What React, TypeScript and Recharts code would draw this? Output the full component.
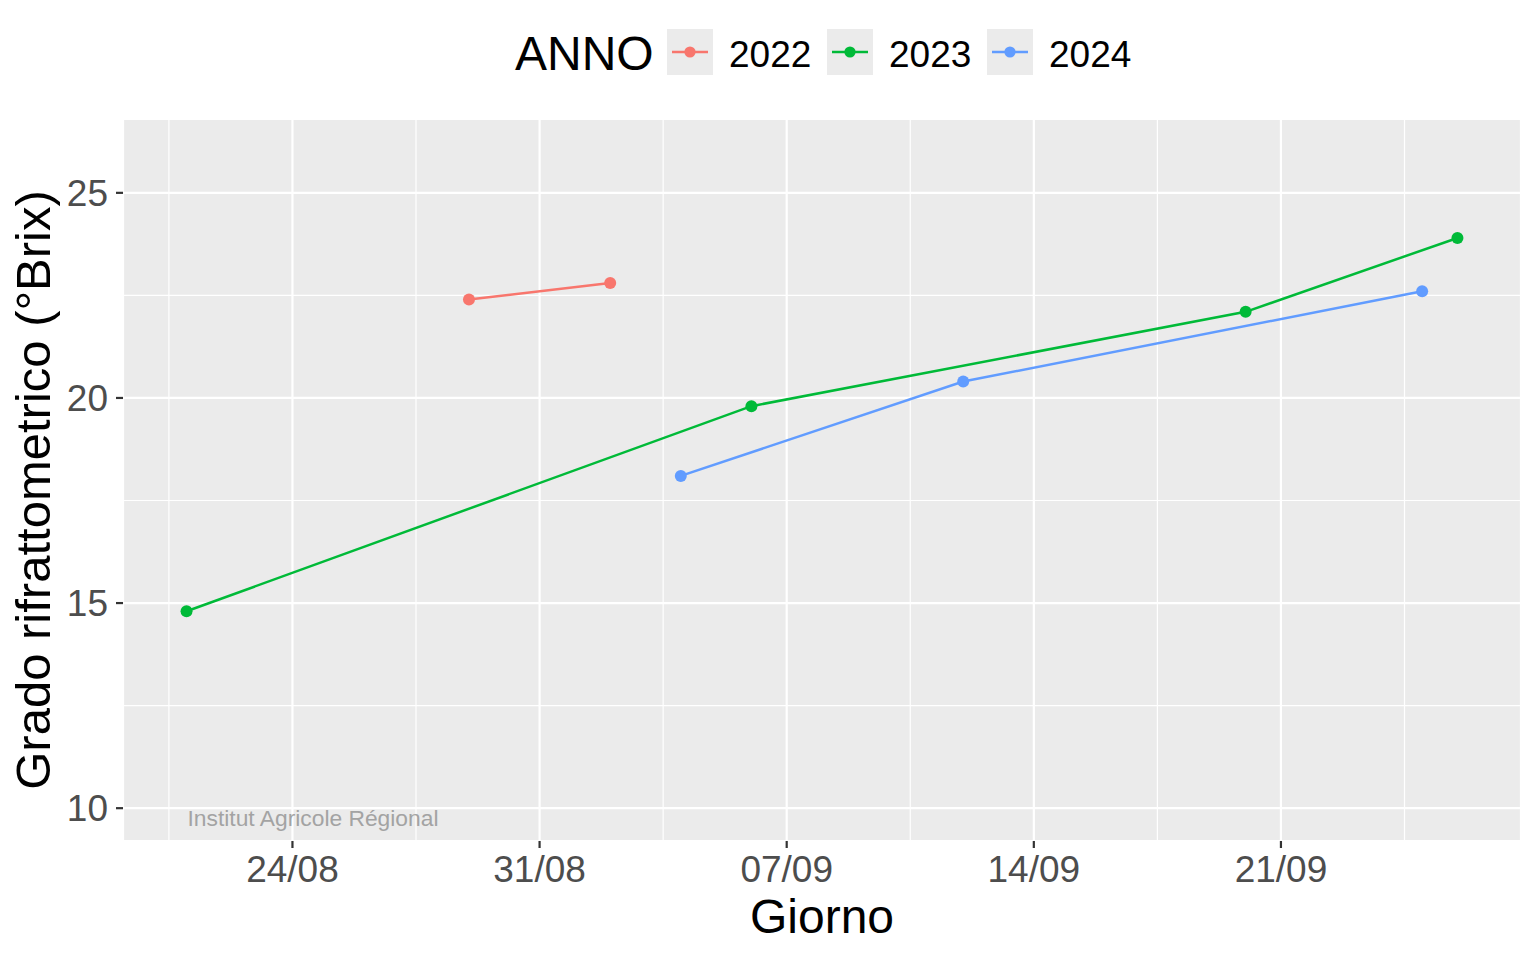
import React from 'react';
import {
  LineChart,
  Line,
  XAxis,
  YAxis,
  CartesianGrid,
  Legend,
  ReferenceDot,
} from 'recharts';

// ---- data ----
const YEARS = ['2022', '2023', '2024'];
const COLORS = ['#F8766D', '#00BA38', '#619CFF'];

const DATES_2022 = ['29/08', '02/09'];
const BRIX_2022 = [22.4, 22.8];

const DATES_2023 = ['21/08', '06/09', '20/09', '26/09'];
const BRIX_2023 = [14.8, 19.8, 22.1, 23.9];

const DATES_2024 = ['04/09', '12/09', '25/09'];
const BRIX_2024 = [18.1, 20.4, 22.6];

const X_TICK_LABELS = ['24/08', '31/08', '07/09', '14/09', '21/09'];
const X_MINOR_LABELS_HALF = ['20/08', '27/08', '03/09', '10/09', '17/09', '24/09'];
const Y_TICKS = [10, 15, 20, 25];
const Y_MINOR = [12.5, 17.5, 22.5];
const Y_DOMAIN: [number, number] = [9.2, 26.8];

const WATERMARK = 'Institut Agricole Régional';
const X_TITLE = 'Giorno';
const Y_TITLE = 'Grado rifrattometrico (°Brix)';
const LEGEND_TITLE = 'ANNO';

// days since 1 August
const dayIndex = (s: string): number => {
  const [d, m] = s.split('/').map(Number);
  return (m === 9 ? 31 : 0) + d - 1;
};

const toSeries = (dates: string[], vals: number[]) =>
  dates.map((d, i) => ({ x: dayIndex(d), y: vals[i] }));

const SERIES = [
  toSeries(DATES_2022, BRIX_2022),
  toSeries(DATES_2023, BRIX_2023),
  toSeries(DATES_2024, BRIX_2024),
];

const X_TICKS = X_TICK_LABELS.map(dayIndex);
const X_MINOR = X_MINOR_LABELS_HALF.map((d) => dayIndex(d) + 0.5);

const allX = SERIES.flat().map((p) => p.x);
const xMin = Math.min(...allX);
const xMax = Math.max(...allX);
const xPad = (xMax - xMin) * 0.05;
const X_DOMAIN: [number, number] = [xMin - xPad, xMax + xPad];

const FONT = '"Liberation Sans", Arial, Helvetica, sans-serif';
const TICK_COLOR = '#4D4D4D';

const XTick = (props: any) => {
  const { x, y, payload } = props;
  const idx = X_TICKS.indexOf(payload.value);
  return (
    <text
      x={x}
      y={y}
      dy="0.71em"
      textAnchor="middle"
      fill={TICK_COLOR}
      fontSize={37}
      fontFamily={FONT}
    >
      {idx >= 0 ? X_TICK_LABELS[idx] : payload.value}
    </text>
  );
};

const YTick = (props: any) => {
  const { x, y, payload } = props;
  return (
    <text
      x={x}
      y={y}
      dy="0.355em"
      textAnchor="end"
      fill={TICK_COLOR}
      fontSize={37}
      fontFamily={FONT}
    >
      {payload.value}
    </text>
  );
};

const LegendContent = () => (
  <svg width={1536} height={100} style={{ display: 'block' }}>
    <text x={515} y={70} fontSize={48} fontFamily={FONT} fill="#000">
      {LEGEND_TITLE}
    </text>
    {YEARS.map((yr, i) => {
      const kx = 667 + i * 160;
      return (
        <g key={yr}>
          <rect x={kx} y={29} width={46} height={46} fill="#EBEBEB" />
          <line
            x1={kx + 5}
            x2={kx + 41}
            y1={52}
            y2={52}
            stroke={COLORS[i]}
            strokeWidth={2.5}
          />
          <circle cx={kx + 23} cy={52} r={5.6} fill={COLORS[i]} />
          <text
            x={kx + 62}
            y={66.7}
            fontSize={37}
            fontFamily={FONT}
            fill="#000"
          >
            {yr}
          </text>
        </g>
      );
    })}
  </svg>
);

export default function App() {
  return (
    <div style={{ position: 'absolute', left: 0, top: 0, fontFamily: FONT }}>
      <LineChart
        width={1536}
        height={960}
        margin={{ top: 119, right: 15, bottom: 59, left: 0 }}
        style={{ background: '#FFFFFF' }}
      >
        <CartesianGrid
          xAxisId="minor"
          yAxisId="minor"
          fill="#EBEBEB"
          fillOpacity={1}
          stroke="#FFFFFF"
          strokeWidth={1.2}
        />
        <CartesianGrid stroke="#FFFFFF" strokeWidth={2.2} />
        <XAxis
          xAxisId="minor"
          type="number"
          dataKey="x"
          domain={X_DOMAIN}
          ticks={X_MINOR}
          allowDataOverflow
          interval={0}
          hide
        />
        <YAxis
          yAxisId="minor"
          type="number"
          dataKey="y"
          domain={Y_DOMAIN}
          ticks={Y_MINOR}
          allowDataOverflow
          interval={0}
          hide
        />
        <XAxis
          type="number"
          dataKey="x"
          domain={X_DOMAIN}
          ticks={X_TICKS}
          allowDataOverflow
          height={60}
          axisLine={false}
          tickLine={{ stroke: '#333333', strokeWidth: 2.2 }}
          tickSize={7}
          tickMargin={8}
          tick={<XTick />}
          interval={0}
          label={{
            content: () => (
              <text
                x={822}
                y={933}
                textAnchor="middle"
                fontSize={48}
                fontFamily={FONT}
                fill="#000"
              >
                {X_TITLE}
              </text>
            ),
          }}
        />
        <YAxis
          type="number"
          dataKey="y"
          domain={Y_DOMAIN}
          ticks={Y_TICKS}
          allowDataOverflow
          width={123}
          axisLine={false}
          tickLine={{ stroke: '#333333', strokeWidth: 2.2 }}
          tickSize={7}
          tickMargin={8}
          tick={<YTick />}
          interval={0}
          label={{
            content: () => (
              <text
                x={49.5}
                y={490}
                transform="rotate(-90, 49.5, 490)"
                textAnchor="middle"
                fontSize={49}
                fontFamily={FONT}
                fill="#000"
              >
                {Y_TITLE}
              </text>
            ),
          }}
        />
        <Legend
          layout="horizontal"
          verticalAlign="middle"
          align="center"
          wrapperStyle={{ position: 'absolute', top: 0, left: 0, width: 1536, height: 100 }}
          content={<LegendContent />}
        />
        <ReferenceDot
          x={xMin}
          y={Y_TICKS[0]}
          r={0}
          fill="none"
          stroke="none"
          ifOverflow="visible"
          label={{
            content: (p: any) => {
              const vb = p.viewBox || {};
              const cx = (vb.x ?? 0) + (vb.width ?? 0) / 2;
              const cy = (vb.y ?? 0) + (vb.height ?? 0) / 2;
              return (
                <text
                  x={cx + 1}
                  y={cy}
                  dy="0.8em"
                  fontSize={22.8}
                  fontFamily={FONT}
                  fill="#A3A3A3"
                >
                  {WATERMARK}
                </text>
              );
            },
          }}
        />
        {SERIES.map((data, i) => (
          <Line
            key={YEARS[i]}
            data={data}
            dataKey="y"
            name={YEARS[i]}
            type="linear"
            stroke={COLORS[i]}
            strokeWidth={2.5}
            dot={{ r: 6, fill: COLORS[i], stroke: COLORS[i], strokeWidth: 0 }}
            activeDot={false}
            isAnimationActive={false}
          />
        ))}
      </LineChart>
    </div>
  );
}
